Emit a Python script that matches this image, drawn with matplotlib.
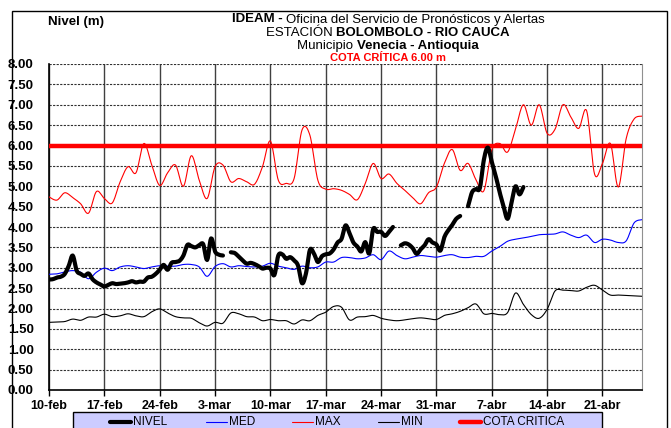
import numpy as np
import matplotlib
matplotlib.use("Agg")
import matplotlib.pyplot as plt
from matplotlib.lines import Line2D
from matplotlib.patches import Rectangle

plt.rcParams["font.family"] = ["Liberation Sans", "DejaVu Sans"]

# days counted from 10-feb
days = np.arange(0, 76)
tick_days = [0, 7, 14, 21, 28, 35, 42, 49, 56, 63, 70]
tick_labels = ["10-feb", "17-feb", "24-feb", "3-mar", "10-mar", "17-mar",
               "24-mar", "31-mar", "7-abr", "14-abr", "21-abr"]

med = [2.84, 2.85, 2.90, 2.93, 2.89, 2.73, 2.89, 2.99, 2.93, 3.02,
       3.05, 3.02, 2.98, 3.02, 3.05, 3.04, 3.04, 3.08, 3.08, 3.02,
       2.79, 3.03, 3.10, 3.02, 3.05, 3.03, 3.02, 3.04, 3.11, 3.04,
       3.00, 2.96, 3.04, 3.00, 3.02, 3.14, 3.14, 3.25, 3.25, 3.22,
       3.24, 3.32, 3.20, 3.41, 3.30, 3.22, 3.26, 3.30, 3.28, 3.26,
       3.30, 3.32, 3.26, 3.25, 3.28, 3.28, 3.41, 3.52, 3.65, 3.70,
       3.73, 3.77, 3.81, 3.82, 3.83, 3.88, 3.80, 3.74, 3.80, 3.62,
       3.70, 3.68, 3.62, 3.66, 4.10, 4.18]

vmax = [4.74, 4.66, 4.84, 4.72, 4.57, 4.34, 4.87, 4.70, 4.59, 5.11,
        5.48, 5.33, 6.05, 5.52, 5.02, 5.33, 5.52, 5.00, 5.75, 5.15,
        4.70, 5.48, 5.52, 5.11, 5.19, 5.11, 5.05, 5.48, 6.11, 5.15,
        5.07, 5.19, 6.38, 6.25, 5.15, 4.93, 4.94, 4.90, 4.80, 4.67,
        5.07, 5.56, 5.19, 5.30, 5.07, 4.90, 4.72, 4.57, 4.84, 4.98,
        5.56, 5.90, 5.39, 5.56, 5.16, 4.89, 5.89, 6.05, 5.84, 6.40,
        7.00, 6.50, 7.00, 6.30, 6.40, 7.00, 6.70, 6.42, 6.85, 5.30,
        5.56, 6.05, 4.98, 6.17, 6.65, 6.72]

vmin = [1.66, 1.67, 1.68, 1.74, 1.71, 1.79, 1.79, 1.86, 1.80, 1.82,
        1.87, 1.82, 1.80, 1.92, 1.99, 1.89, 1.80, 1.77, 1.76, 1.65,
        1.57, 1.66, 1.64, 1.89, 1.87, 1.80, 1.79, 1.70, 1.73, 1.70,
        1.70, 1.62, 1.72, 1.70, 1.83, 1.91, 2.05, 2.03, 1.72, 1.79,
        1.80, 1.83, 1.76, 1.72, 1.70, 1.72, 1.75, 1.77, 1.75, 1.73,
        1.83, 1.87, 1.93, 2.02, 2.11, 1.87, 1.88, 1.85, 1.90, 2.38,
        2.10, 1.85, 1.76, 1.98, 2.43, 2.45, 2.44, 2.43, 2.52, 2.57,
        2.45, 2.33, 2.33, 2.32, 2.31, 2.30]

# nivel every half day, nan = no data
nivel_days = np.arange(0, 60.5, 0.5)
nan = np.nan
nivel = [2.71, 2.72, 2.76, 2.78, 2.85, 3.05, 3.30, 2.93, 2.85, 2.80,
         2.86, 2.72, 2.64, 2.59, 2.54, 2.58, 2.62, 2.60, 2.61, 2.62,
         2.64, 2.67, 2.64, 2.66, 2.66, 2.76, 2.78, 2.85, 2.95, 3.07,
         2.95, 3.12, 3.14, 3.17, 3.30, 3.56, 3.53, 3.50, 3.55, 3.58,
         3.19, 3.72, 3.40, 3.32, 3.30, nan, 3.38, 3.36, 3.27, 3.18,
         3.10, 3.12, 3.09, 3.04, 2.98, 3.00, 2.98, 2.82, 3.30, 3.33,
         3.22, 3.26, 3.18, 3.05, 2.62, 2.86, 3.44, 3.35, 3.14, 3.28,
         3.33, 3.35, 3.45, 3.62, 3.71, 4.04, 3.85, 3.62, 3.52, 3.40,
         3.63, 3.35, 3.95, 3.88, 3.88, 3.78, 3.88, 4.00, nan, 3.55,
         3.60, 3.57, 3.48, 3.34, 3.45, 3.55, 3.70, 3.62, 3.57, 3.42,
         3.75, 3.92, 4.05, 4.20, 4.27, nan, 4.51, 4.85, 4.93, 4.96,
         5.65, 5.95, 5.60, 5.25, 4.85, 4.50, 4.20, 4.60, 5.00, 4.80,
         4.98]

cota = 6.00


def smooth(x, y, n=12):
    # catmull-rom like the smoothed lines of the original sheet
    x = np.asarray(x, float)
    y = np.asarray(y, float)
    ok = ~np.isnan(y)
    xs, ys = [], []
    i = 0
    while i < len(y):
        if not ok[i]:
            i += 1
            continue
        j = i
        while j < len(y) and ok[j]:
            j += 1
        px, py = x[i:j], y[i:j]
        m = len(px)
        for k in range(m - 1):
            p0 = (px[k - 1], py[k - 1]) if k > 0 else (px[k], py[k])
            p1 = (px[k], py[k])
            p2 = (px[k + 1], py[k + 1])
            p3 = (px[k + 2], py[k + 2]) if k + 2 < m else p2
            for t in np.linspace(0, 1, n, endpoint=False):
                t2, t3 = t * t, t * t * t
                for dim, arr in ((0, xs), (1, ys)):
                    a0, a1, a2, a3 = p0[dim], p1[dim], p2[dim], p3[dim]
                    arr.append(0.5 * (2 * a1 + (-a0 + a2) * t +
                                      (2 * a0 - 5 * a1 + 4 * a2 - a3) * t2 +
                                      (-a0 + 3 * a1 - 3 * a2 + a3) * t3))
        xs.append(px[-1])
        ys.append(py[-1])
        xs.append(np.nan)
        ys.append(np.nan)
        i = j
    return np.array(xs), np.array(ys)


W, H = 671, 428
fig = plt.figure(figsize=(W / 100, H / 100), dpi=100)
ax = fig.add_axes([49 / W, 1 - 390 / H, (642 - 49) / W, (390 - 64) / H])

ax.plot(*smooth(days, vmin), color="black", lw=0.8, zorder=3)
ax.plot(*smooth(days, vmax), color="red", lw=0.8, zorder=3)
ax.axhline(cota, color="red", lw=3.2, zorder=4)
ax.plot(*smooth(days, med), color="blue", lw=0.8, zorder=5)
ax.plot(*smooth(nivel_days, nivel, 6), color="black", lw=3.0,
        solid_capstyle="round", solid_joinstyle="round", zorder=6)

ax.set_xlim(0, 75)
ax.set_ylim(0, 8)
ax.set_yticks(np.arange(0, 8.01, 0.5))
ax.set_yticklabels(["%.2f" % v for v in np.arange(0, 8.01, 0.5)],
                   fontsize=9.5, fontweight="bold")
ax.set_xticks(tick_days)
ax.set_xticklabels(tick_labels, fontsize=9, fontweight="bold")
ax.tick_params(axis="y", length=0, pad=11)
ax.tick_params(axis="x", length=4, width=1, direction="out", pad=3)

ax.xaxis.grid(True, ls="-", color="#404040", lw=1)
ax.yaxis.grid(True, ls=(0, (2, 1.2)), color="#303030", lw=0.8)
ax.set_axisbelow(True)
ax.spines["top"].set_visible(False)
ax.spines["right"].set_color("#909090")
ax.spines["left"].set_linewidth(1.2)
ax.spines["bottom"].set_linewidth(1.2)

# outer frame of the chart
fig.patches.append(Rectangle((12 / W, -0.02), (667 - 12) / W, 1 - 11 / H + 0.02,
                             transform=fig.transFigure, fill=False,
                             edgecolor="black", lw=1))

fig.text(48 / W, 1 - 22 / H, "Nivel (m)", fontsize=9.5, fontweight="bold",
         va="center")

renderer = fig.canvas.get_renderer()


def rich_line(y, parts, size, xc=388):
    texts = [fig.text(0, 1 - y / H, s, fontsize=size, fontweight=w, color=c,
                      va="center") for s, w, c in parts]
    widths = [t.get_window_extent(renderer).width for t in texts]
    x = xc - sum(widths) / 2
    for t, w in zip(texts, widths):
        t.set_x(x / W)
        x += w


rich_line(19.5, [("IDEAM - ", "bold", "black"),
                 ("Oficina del Servicio de Pronósticos y Alertas", "normal", "black")], 9.5)
rich_line(33, [("ESTACIÓN ", "normal", "black"),
               ("BOLOMBOLO - RIO CAUCA", "bold", "black")], 9.5)
rich_line(46, [("Municipio ", "normal", "black"),
               ("Venecia - Antioquia", "bold", "black")], 9.5)
rich_line(58, [("COTA CRÍTICA 6.00 m", "bold", "red")], 8)

# legend box
fig.patches.append(Rectangle((73 / W, -0.02), (602 - 73) / W, 0.02 + (428 - 412) / H,
                             transform=fig.transFigure, facecolor="#ccccff",
                             edgecolor="black", lw=1))
leg_items = [("NIVEL", "black", 3.0, 110), ("MED", "blue", 0.8, 206),
             ("MAX", "red", 0.8, 292), ("MIN", "black", 0.8, 378),
             ("COTA CRITICA", "red", 3.2, 460)]
ly = 1 - 422 / H
for name, col, lw, x0 in leg_items:
    fig.lines.append(Line2D([x0 / W, (x0 + 21) / W], [ly, ly], color=col, lw=lw,
                            solid_capstyle="round", transform=fig.transFigure))
    fig.text((x0 + 23) / W, ly, name, fontsize=8.5, va="center")

fig.savefig("out.png", dpi=100)
